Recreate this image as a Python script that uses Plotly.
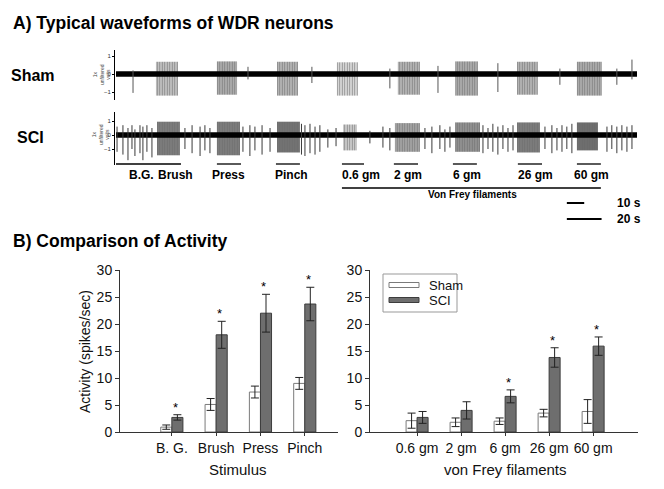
import plotly.graph_objects as go

W, H = 664, 489
FONT = "Liberation Sans, Arial, sans-serif"


def px(x):
    return x / W


def py(y):
    return 1 - y / H


# ---------------- Panel A: recorded waveforms (time in s) ----------------
rec_len = 300

sham_burst_start = [23.0, 58.1, 92.7, 127.2, 162.3, 195.2, 230.9, 265.4]
sham_burst_end = [35.7, 69.7, 104.8, 139.3, 175.0, 208.4, 242.9, 279.8]
sham_burst_hi = [0.68, 0.70, 0.68, 0.65, 0.68, 0.70, 0.68, 0.68]
sham_burst_lo = [-1.20, -1.15, -1.20, -1.20, -1.15, -1.20, -1.15, -1.20]
sham_burst_density = [0.45, 0.55, 0.50, 0.35, 0.50, 0.55, 0.50, 0.55]

sham_spike_t = [9.8, 76.0, 112.8, 157.7, 185.4, 219.9, 255.6, 288.4, 297.1]
sham_spike_hi = [0.2, 0.4, 0.4, 0.3, 0.45, 0.6, 0.3, 0.3, 0.8]
sham_spike_lo = [-1.05, -0.3, -0.5, -0.8, -1.05, -1.0, -0.6, -0.6, -0.3]

sci_burst_start = [23.6, 58.1, 92.7, 130.7, 160.6, 195.2, 230.9, 265.4]
sci_burst_end = [36.8, 71.4, 105.9, 138.7, 175.0, 209.6, 244.1, 277.5]
sci_burst_hi = [0.95, 0.95, 0.95, 0.75, 0.85, 0.90, 0.90, 0.90]
sci_burst_lo = [-1.45, -1.45, -1.25, -1.10, -1.20, -1.20, -1.25, -1.10]
sci_burst_density = [0.85, 0.85, 0.90, 0.40, 0.60, 0.70, 0.85, 0.95]

sci_spike_t = [0.6, 4.0, 6.9, 9.2, 10.9, 13.8, 15.5, 17.8, 20.7,
               39.7, 43.8, 48.4, 51.2, 54.1,
               73.1, 77.1, 80.0, 84.1, 88.7,
               106.8, 108.8, 111.7, 114.6, 117.4, 122.0, 126.7,
               146.2, 153.7, 157.7,
               177.9, 181.9, 186.5, 189.4, 192.3,
               211.3, 214.2, 217.0, 219.9, 222.8, 225.7, 228.6,
               247.0, 251.0, 253.9, 256.8, 259.6, 262.5,
               282.7, 285.5, 288.4, 291.3, 294.2, 297.1]
sci_spike_hi = [0.6, 0.7, 0.5, 0.7, 0.4, 0.7, 0.6, 0.7, 0.5,
                0.5, 0.7, 0.6, 0.7, 0.5,
                0.6, 0.7, 0.6, 0.7, 0.5,
                0.8, 0.7, 0.8, 0.6, 0.7, 0.4, 0.5,
                0.3, 0.6, 0.5,
                0.5, 0.6, 0.7, 0.4, 0.6,
                0.7, 0.5, 0.8, 0.6, 0.7, 0.5, 0.7,
                0.6, 0.7, 0.5, 0.7, 0.6, 0.8,
                0.6, 0.7, 0.6, 0.7, 0.6, 0.7]
sci_spike_lo = [-1.2, -1.4, -1.8, -1.0, -1.5, -1.3, -1.8, -1.2, -1.6,
                -1.0, -1.3, -1.5, -1.1, -1.3,
                -1.2, -1.5, -1.1, -1.4, -1.2,
                -1.4, -1.5, -1.3, -1.4, -1.2, -0.9, -0.8,
                -0.6, -0.9, -1.1,
                -1.0, -1.3, -1.0, -1.2, -0.9,
                -1.3, -1.0, -1.2, -1.4, -1.0, -1.2, -1.1,
                -1.0, -1.3, -1.1, -1.2, -1.0, -1.3,
                -1.2, -1.0, -1.3, -1.1, -1.2, -1.0]

# stimulus application periods (s) and labels
stim_bar_start = [0.0, 58.1, 92.1]
stim_bar_end = [37.4, 72.0, 105.9]
stim_label = ["B.G.", "Brush", "Press", "Pinch"]
stim_label_t = [14.4, 34.5, 64.5, 101.3]
vf_bar_start = [130.1, 160.0, 194.0, 231.4, 265.4]
vf_bar_end = [142.8, 173.9, 207.8, 245.3, 279.2]
vf_label = ["0.6 gm", "2 gm", "6 gm", "26 gm", "60 gm"]
vf_label_t = [141.0, 168.1, 202.1, 241.8, 274.0]
scale_bar_s = [10, 20]
scale_bar_t0 = 259.6

# ---------------- Panel B: activity ----------------
series_names = ["Sham", "SCI"]
stim_cats = ["B. G.", "Brush", "Press", "Pinch"]
stim_sham = [0.9, 5.1, 7.4, 9.0]
stim_sham_err = [0.4, 1.1, 1.1, 1.1]
stim_sci = [2.7, 18.0, 22.0, 23.7]
stim_sci_err = [0.5, 2.5, 3.5, 3.1]
stim_sig = [True, True, True, True]

vf_cats = ["0.6 gm", "2 gm", "6 gm", "26 gm", "60 gm"]
vf_sham = [2.1, 1.8, 2.0, 3.5, 3.8]
vf_sham_err = [1.4, 0.8, 0.6, 0.7, 2.2]
vf_sci = [2.7, 4.0, 6.6, 13.8, 15.9]
vf_sci_err = [1.1, 1.6, 1.2, 1.8, 1.7]
vf_sig = [False, False, True, True, True]

SHAM_FILL, SHAM_LINE = "white", "#7a7a7a"
SCI_FILL, SCI_LINE = "#6e6e6e", "#3c3c3c"

fig = go.Figure()


def add_recording(yref, b0, b1, bhi, blo, dens, st, shi, slo, spike_col):
    # baseline noise band
    fig.add_trace(go.Scatter(x=[0, rec_len], y=[0, 0], mode="lines",
                             line=dict(color="black", width=5.5),
                             xaxis="x", yaxis=yref, hoverinfo="skip"))
    # bursts of firing
    fig.add_trace(go.Bar(
        x=[(a + b) / 2 for a, b in zip(b0, b1)],
        y=[h - l for h, l in zip(bhi, blo)],
        base=blo,
        width=[b - a for a, b in zip(b0, b1)],
        marker=dict(color=[f"rgba(0,0,0,{0.45 * d:.2f})" for d in dens],
                    line=dict(width=0),
                    pattern=dict(shape="|", fgcolor="black", size=2.5,
                                 solidity=dens)),
        xaxis="x", yaxis=yref, hoverinfo="skip"))
    # isolated spikes
    xs, ys = [], []
    for t, h, l in zip(st, shi, slo):
        xs += [t, t, None]
        ys += [h, l, None]
    fig.add_trace(go.Scatter(x=xs, y=ys, mode="lines",
                             line=dict(color=spike_col, width=1),
                             xaxis="x", yaxis=yref, hoverinfo="skip"))


add_recording("y", sham_burst_start, sham_burst_end, sham_burst_hi,
              sham_burst_lo, sham_burst_density, sham_spike_t,
              sham_spike_hi, sham_spike_lo, "#555555")
add_recording("y2", sci_burst_start, sci_burst_end, sci_burst_hi,
              sci_burst_lo, sci_burst_density, sci_spike_t,
              sci_spike_hi, sci_spike_lo, "#3a3a3a")


def add_bars(cats, sham, sham_err, sci, sci_err, xa, ya):
    fig.add_trace(go.Bar(x=cats, y=sham, name=series_names[0],
                         marker=dict(color=SHAM_FILL,
                                     line=dict(color=SHAM_LINE, width=1)),
                         error_y=dict(type="data", array=sham_err,
                                      color="#222", thickness=1, width=4),
                         xaxis=xa, yaxis=ya))
    fig.add_trace(go.Bar(x=cats, y=sci, name=series_names[1],
                         marker=dict(color=SCI_FILL,
                                     line=dict(color=SCI_LINE, width=1)),
                         error_y=dict(type="data", array=sci_err,
                                      color="#222", thickness=1, width=4),
                         xaxis=xa, yaxis=ya))


add_bars(stim_cats, stim_sham, stim_sham_err, stim_sci, stim_sci_err, "x3", "y3")
add_bars(vf_cats, vf_sham, vf_sham_err, vf_sci, vf_sci_err, "x4", "y4")

annotations = []
shapes = []


def ann(x, y, text, size, xanchor="left", yanchor="middle", bold=False,
        xref="paper", yref="paper", angle=0, color="black"):
    annotations.append(dict(
        x=x, y=y, xref=xref, yref=yref, text=f"<b>{text}</b>" if bold else text,
        showarrow=False, xanchor=xanchor, yanchor=yanchor, textangle=angle,
        font=dict(family=FONT, size=size, color=color)))


# titles / row labels
ann(px(11), py(23), "A) Typical waveforms of WDR neurons", 17.5, bold=True)
ann(px(9), py(75), "Sham", 16, bold=True)
ann(px(15), py(137), "SCI", 16, bold=True)
ann(px(11), py(241), "B) Comparison of Activity", 17.5, bold=True)
for yc in (75, 135):
    ann(px(101), py(yc), "1x<br>unfiltered<br>volts", 5, xanchor="center",
        angle=-90, color="#444")

# stimulus bars and labels
for a, b in zip(stim_bar_start + vf_bar_start, stim_bar_end + vf_bar_end):
    shapes.append(dict(type="line", xref="x", yref="paper", x0=a, x1=b,
                       y0=py(164), y1=py(164), line=dict(color="black", width=1.3)))
for lab, t in zip(stim_label + vf_label, stim_label_t + vf_label_t):
    ann(t, py(175), lab, 12, xanchor="center", bold=True, xref="x")
shapes.append(dict(type="line", xref="x", yref="paper", x0=min(vf_bar_start),
                   x1=max(vf_bar_end), y0=py(188), y1=py(188),
                   line=dict(color="black", width=1.3)))
ann((min(vf_bar_start) + max(vf_bar_end)) / 2 + 0.5, py(195), "Von Frey filaments",
    10, xanchor="center", bold=True, xref="x")
for s, yy in zip(scale_bar_s, (203, 219)):
    shapes.append(dict(type="line", xref="x", yref="paper", x0=scale_bar_t0,
                       x1=scale_bar_t0 + s, y0=py(yy), y1=py(yy),
                       line=dict(color="black", width=2)))
    ann(px(615), py(yy), f"{s} s", 12, bold=True)

# significance stars
for cats, v, e, sig, xa, ya in ((stim_cats, stim_sci, stim_sci_err, stim_sig, "x3", "y3"),
                                (vf_cats, vf_sci, vf_sci_err, vf_sig, "x4", "y4")):
    for c, val, err, s in zip(cats, v, e, sig):
        if s:
            annotations.append(dict(x=c, y=val + err, xref=xa, yref=ya, text="*",
                                    showarrow=False, xanchor="left", yanchor="bottom",
                                    xshift=-1, yshift=-2,
                                    font=dict(family=FONT, size=13, color="black")))

# axis titles of panel B
ann(px(85), py(352), "Activity (spikes/sec)", 14, xanchor="center", angle=-90, color="#111")
ann(px(238), py(469), "Stimulus", 15, xanchor="center", color="#111")
ann(px(505), py(469), "von Frey filaments", 15, xanchor="center", color="#111")

# legend (drawn)
shapes.append(dict(type="rect", xref="paper", yref="paper", x0=px(383), x1=px(457),
                   y0=py(312), y1=py(274), line=dict(color="#999", width=1),
                   fillcolor="white"))
for name, fill, line, yy in zip(series_names, (SHAM_FILL, SCI_FILL),
                                (SHAM_LINE, SCI_LINE), (285, 300)):
    shapes.append(dict(type="rect", xref="paper", yref="paper", x0=px(389), x1=px(419),
                       y0=py(yy + 2.5), y1=py(yy - 2.5), fillcolor=fill,
                       line=dict(color=line, width=1)))
    ann(px(427), py(yy), name, 13, color="#111")

trace_yaxis = dict(showline=True, linecolor="black", linewidth=1, ticks="outside",
                   ticklen=2, tickcolor="black", tickvals=[-1, 0, 1],
                   tickfont=dict(family=FONT, size=6, color="#333"),
                   showgrid=False, zeroline=False, anchor="free", position=px(114),
                   automargin=False)

bar_yaxis = dict(range=[0, 30], dtick=5, showline=True, linecolor="#333",
                 linewidth=1, ticks="outside", ticklen=4, tickcolor="#333",
                 tickfont=dict(family=FONT, size=14, color="#111"),
                 showgrid=False, zeroline=False, automargin=False,
                 domain=[py(432), py(270)])
bar_xaxis = dict(showline=True, linecolor="#333", linewidth=1, ticks="outside",
                 ticklen=3, tickcolor="#333", automargin=False,
                 tickfont=dict(family=FONT, size=14, color="#111"),
                 showgrid=False, zeroline=False)

fig.update_layout(
    width=W, height=H, margin=dict(l=0, r=0, t=0, b=0, autoexpand=False),
    paper_bgcolor="white", plot_bgcolor="white", showlegend=False,
    barmode="group", bargap=0.5, bargroupgap=0,
    xaxis=dict(domain=[px(116), px(637)], range=[0, rec_len], visible=False,
               anchor="y2", automargin=False),
    yaxis=dict(domain=[py(100), py(50)], range=[-1.444, 1.333], **trace_yaxis),
    yaxis2=dict(domain=[py(165), py(112)], range=[-2.143, 1.643], **trace_yaxis),
    xaxis3=dict(domain=[px(120), px(338)], range=[-1.17, 3.75], anchor="y3", **bar_xaxis),
    yaxis3=dict(anchor="x3", **bar_yaxis),
    xaxis4=dict(domain=[px(370), px(638)], range=[-1.07, 5.02], anchor="y4", **bar_xaxis),
    yaxis4=dict(anchor="x4", **bar_yaxis),
    annotations=annotations, shapes=shapes,
)

fig.write_html("out.html", config={"displayModeBar": False},
               post_script="document.body.style.margin='0px';")
